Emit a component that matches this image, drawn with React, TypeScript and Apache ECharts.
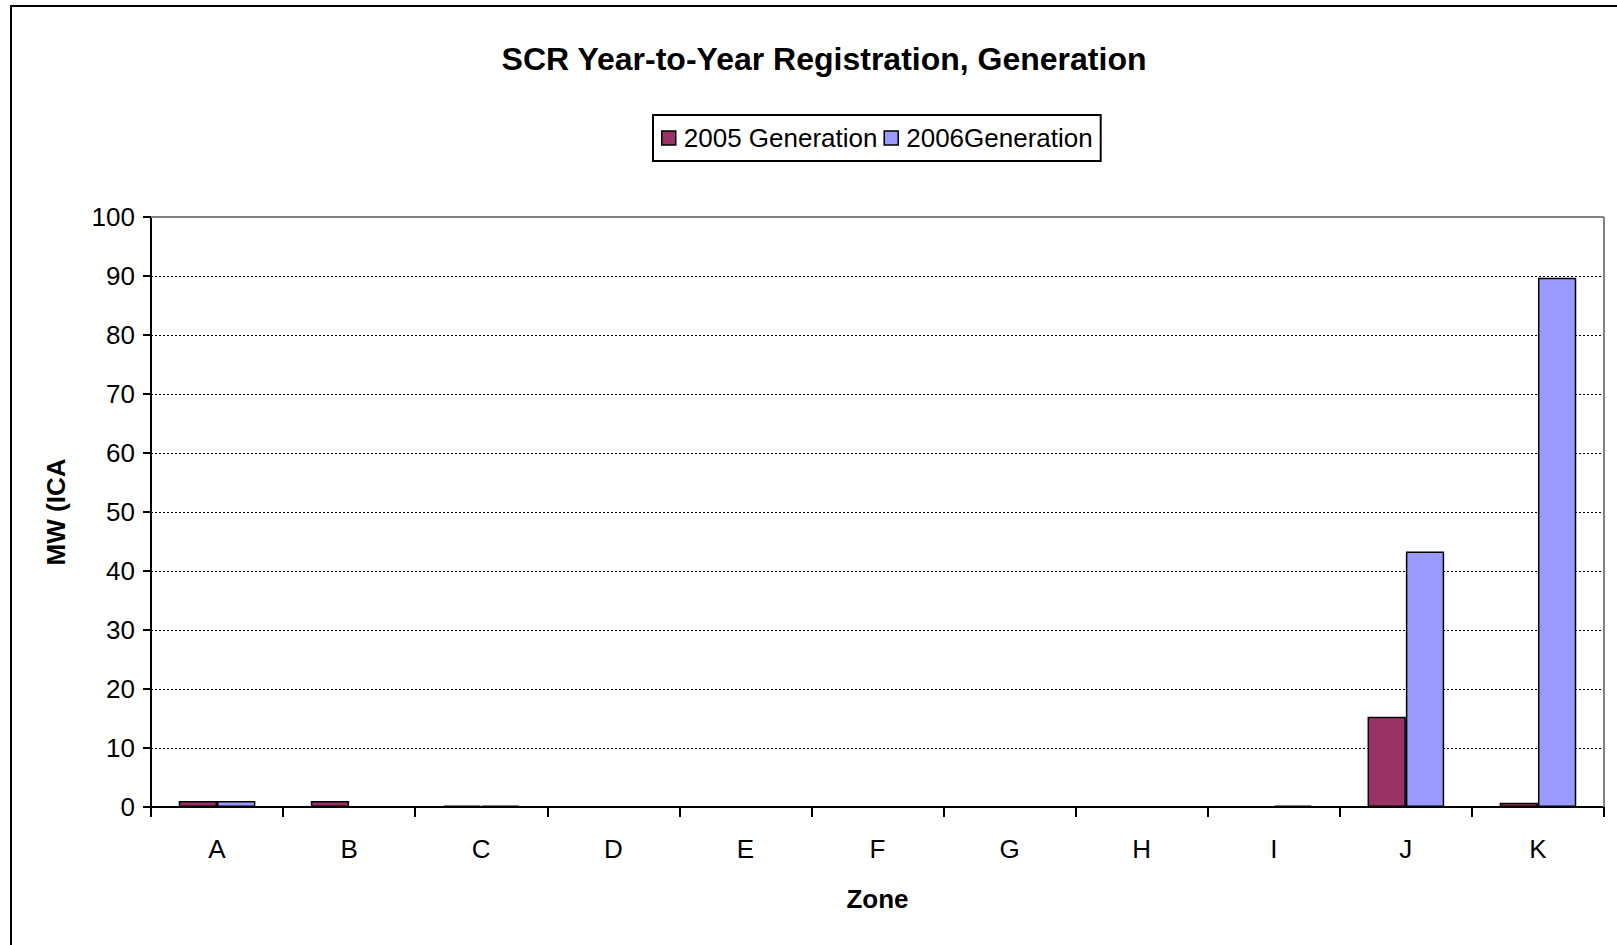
import React, { useEffect, useRef } from "react";
import * as echarts from "echarts";

const zones = ["A", "B", "C", "D", "E", "F", "G", "H", "I", "J", "K"];
const gen2005 = [1.0, 1.0, 0.25, 0, 0, 0, 0, 0, 0, 15.3, 0.7];
const gen2006 = [1.0, 0, 0.25, 0, 0, 0, 0, 0, 0.25, 43.3, 89.7];
const seriesNames = ["2005 Generation", "2006Generation"];
const yTicks = { min: 0, max: 100, interval: 10 };

const FONT = "'Liberation Sans', Arial, sans-serif";

export default function App() {
  const ref = useRef<HTMLDivElement>(null);
  useEffect(() => {
    document.body.style.margin = "0";
    const chart = echarts.init(ref.current!, null, { renderer: "svg" });
    const gridL = 151, gridT = 217, gridR = 1604, gridB = 807;
    chart.setOption({
      animation: false,
      backgroundColor: "#ffffff",
      textStyle: { fontFamily: FONT },
      grid: { left: gridL, top: gridT, width: gridR - gridL, height: gridB - gridT, containLabel: false },
      legend: {
        left: 653,
        top: 115,
        padding: [10, 8, 10, 8],
        itemGap: 6,
        itemWidth: 14,
        itemHeight: 14,
        borderColor: "#000",
        borderWidth: 2,
        icon: "rect",
        itemStyle: { borderColor: "#000", borderWidth: 1.5 },
        textStyle: { fontFamily: FONT, fontSize: 26, color: "#000", padding: [0, 0, 0, 3] },
        data: seriesNames,
      },
      xAxis: {
        type: "category",
        data: zones,
        name: "Zone",
        nameLocation: "middle",
        nameGap: 79,
        nameTextStyle: { fontFamily: FONT, fontSize: 26, fontWeight: "bold", color: "#000" },
        axisLine: { show: true, lineStyle: { color: "#000", width: 2 } },
        axisTick: { show: true, alignWithLabel: false, length: 10, lineStyle: { color: "#000", width: 2 } },
        axisLabel: { fontFamily: FONT, fontSize: 26, color: "#000", margin: 29 },
        splitLine: { show: false },
      },
      yAxis: {
        type: "value",
        min: yTicks.min,
        max: yTicks.max,
        interval: yTicks.interval,
        name: "MW (ICAP)",
        nameLocation: "middle",
        nameGap: 82,
        nameRotate: 90,
        nameTruncate: { maxWidth: 120, ellipsis: "" },
        nameTextStyle: { fontFamily: FONT, fontSize: 26, fontWeight: "bold", color: "#000" },
        axisLine: { show: true, lineStyle: { color: "#000", width: 2 } },
        axisTick: { show: true, length: 8, lineStyle: { color: "#000", width: 2 } },
        axisLabel: { fontFamily: FONT, fontSize: 26, color: "#000", margin: 16 },
        splitLine: { show: true, lineStyle: { color: "#000", width: 1, type: [2, 2] } },
      },
      series: [
        {
          name: seriesNames[0],
          type: "bar",
          data: gen2005,
          barGap: "0%",
          barCategoryGap: "42%",
          itemStyle: { color: "#993366", borderColor: "#000", borderWidth: 1.5 },
        },
        {
          name: seriesNames[1],
          type: "bar",
          data: gen2006,
          barGap: "0%",
          barCategoryGap: "42%",
          itemStyle: { color: "#9999FF", borderColor: "#000", borderWidth: 1.5 },
        },
      ],
      graphic: [
        {
          type: "rect",
          silent: true,
          z: -10,
          shape: { x: 11, y: 6, width: 1700, height: 1100 },
          style: { fill: "none", stroke: "#000", lineWidth: 2 },
        },
        {
          type: "line",
          z: 100,
          silent: true,
          shape: { x1: gridL, y1: gridT, x2: gridR, y2: gridT },
          style: { stroke: "#808080", lineWidth: 2 },
        },
        {
          type: "line",
          z: 100,
          silent: true,
          shape: { x1: gridR, y1: gridT, x2: gridR, y2: gridB },
          style: { stroke: "#808080", lineWidth: 2 },
        },
        {
          type: "text",
          z: 100,
          x: 824,
          y: 59,
          style: {
            text: "SCR Year-to-Year Registration, Generation",
            fontFamily: FONT,
            fontSize: 32,
            fontWeight: "bold",
            fill: "#000",
            align: "center",
            verticalAlign: "middle",
          },
        },
      ],
    });
    return () => chart.dispose();
  }, []);
  return <div ref={ref} style={{ position: "absolute", left: 0, top: 0, width: 1617, height: 945 }} />;
}
